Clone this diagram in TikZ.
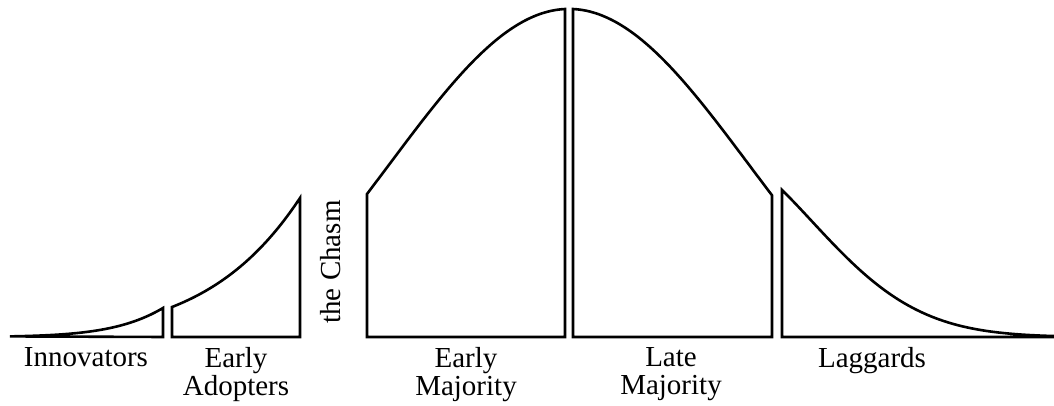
\documentclass[tikz,border=0pt]{standalone}
\usepackage{fontspec}
\setmainfont{Liberation Serif}
\begin{document}
\begin{tikzpicture}[x=0.5pt, y=0.5pt,
    segment/.style={draw, line width=1.3pt, line join=miter},
    every node/.style={inner sep=0pt, align=center, font=\fontsize{14.5}{14}\selectfont}]
    \useasboundingbox (0,0) rectangle (1054,406);
    % innovators
    \draw[segment] plot[domain=10:163, samples=50] (\x,{69+29*exp(-0.02055*(163-\x)-0.305*((163-\x)/100)^2)})
        -- (163,69) -- cycle;
    % early adopters
    \draw[segment] (172,69) -- plot[domain=172:300, samples=50] (\x,{69+139*exp(-0.01089*(300-\x)-0.085*((300-\x)/100)^2)})
        -- (300,69) -- cycle;
    % early majority
    \draw[segment] (367,69) -- plot[domain=367:565, samples=60] (\x,{1+396*exp(-0.5*((\x-569)/180)^2)})
        -- (565,69) -- cycle;
    % late majority
    \draw[segment] (573,69) -- plot[domain=573:772, samples=60] (\x,{1+396*exp(-0.5*((\x-569)/180)^2)})
        -- (772,69) -- cycle;
    % laggards
    \draw[segment] (782,69) -- plot[domain=782:1054, samples=70] (\x,{69+147*exp(-0.00672*(\x-782)-0.434*((\x-782)/100)^2)})
        -- (1054,69) -- cycle;
    \node[anchor=north] (inno) at (86,59) {Innovators};
    \node[anchor=north] (early) at (236,59) {Early\\Adopters};
    \node[anchor=north] (emaj) at (466,59) {Early\\Majority};
    \node[anchor=north] (lmaj) at (671,59) {Late\\Majority};
    \node[anchor=north] (lagg) at (872,59) {Laggards};
    \node[rotate=90] (chasm) at (331,144) {the Chasm};
\end{tikzpicture}
\end{document}
